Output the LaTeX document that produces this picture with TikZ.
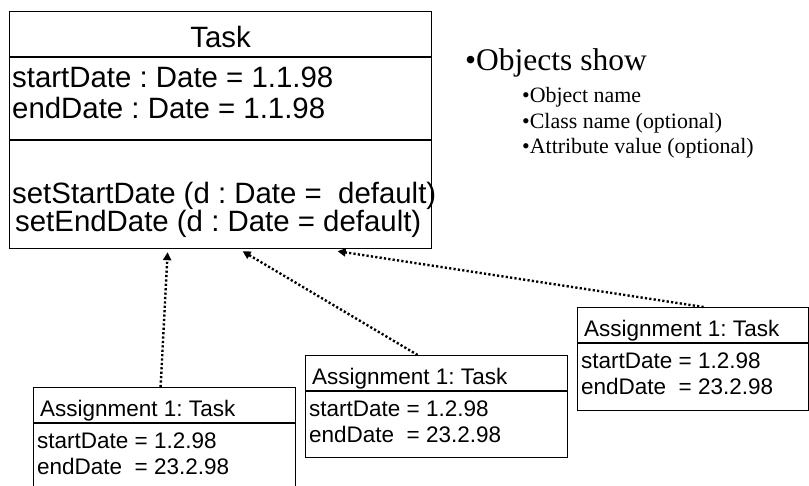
\documentclass[tikz,border=0pt]{standalone}
\usepackage{fontspec}
\setmainfont{Liberation Serif}
\newfontfamily\umlfont{Liberation Sans}
\usetikzlibrary{
    arrows.meta,
    positioning
}
\frenchspacing

\tikzset{
    objbox/.style={draw, line width=1.2pt, inner sep=0pt, anchor=north west},
    bigtxt/.style={font=\umlfont\fontsize{29.4}{34}\selectfont, inner sep=0pt, anchor=base west},
    smalltxt/.style={font=\umlfont\fontsize{22.5}{27}\selectfont, inner sep=0pt, anchor=base west},
    instof/.style={-{Triangle[length=8pt,width=8pt]}, line width=2.4pt, dash pattern=on 2.2pt off 2.2pt},
}

\begin{document}
\begin{tikzpicture}[x=1pt, y=-1pt]
    \useasboundingbox (0,0) rectangle (809,485);
    \clip (0,0) rectangle (809,485);

    % class box
    \node[objbox, minimum width=422pt, minimum height=237pt] (task) at (9,11) {};
    \draw[line width=1.2pt] ([yshift=-46pt]task.north west) -- ([yshift=-46pt]task.north east);
    \draw[line width=1.2pt] ([yshift=-129pt]task.north west) -- ([yshift=-129pt]task.north east);
    \node[bigtxt, anchor=base] (task-name) at ([yshift=-36pt]task.north) {Task};
    \node[bigtxt] (task-start) at ([xshift=3pt,yshift=-76pt]task.north west) {startDate : Date = 1.1.98};
    \node[bigtxt] (task-end)   at ([xshift=3pt,yshift=-107pt]task.north west) {endDate : Date = 1.1.98};
    \node[bigtxt] (task-set1)  at ([xshift=3pt,yshift=-192pt]task.north west) {setStartDate (d : Date = \ default)};
    \node[bigtxt] (task-set2)  at ([xshift=6pt,yshift=-220pt]task.north west) {setEndDate (d : Date = default)};

    % object boxes
    \foreach \nm/\x/\y/\w/\h in {objA/33/387/262/110, objB/305/355/262/102, objC/577/307/231/103} {
        \node[objbox, minimum width=\w pt, minimum height=\h pt] (\nm) at (\x,\y) {};
        \draw[line width=1.2pt] ([yshift=-36pt]\nm.north west) -- ([yshift=-36pt]\nm.north east);
        \node[smalltxt] (\nm-title) at ([xshift=7pt,yshift=-29pt]\nm.north west) {Assignment 1: Task};
        \node[smalltxt] (\nm-start) at ([xshift=4pt,yshift=-61pt]\nm.north west) {startDate = 1.2.98};
        \node[smalltxt] (\nm-end)   at ([xshift=4pt,yshift=-87pt]\nm.north west) {endDate \ = 23.2.98};
    }

    % instance-of links
    \draw[instof] ([xshift=-4pt]objA.north) -- ([xshift=-53pt,yshift=-3pt]task.south);
    \draw[instof] ([xshift=-19pt]objB.north) -- ([xshift=22pt,yshift=-2pt]task.south);
    \draw[instof] ([xshift=10.5pt]objC.north) -- ([xshift=117pt,yshift=-2pt]task.south);

    % notes
    \node[anchor=base west, inner sep=0pt, font=\fontsize{31.5}{36}\selectfont] (note) at (465,70) {•Objects show};
    \node[anchor=base west, inner sep=0pt, font=\fontsize{21.9}{26}\selectfont] (note-1) at (522,102) {•Object name};
    \node[anchor=base west, inner sep=0pt, font=\fontsize{21.9}{26}\selectfont] (note-2) at (522,128) {•Class name (optional)};
    \node[anchor=base west, inner sep=0pt, font=\fontsize{21.9}{26}\selectfont] (note-3) at (522,153) {•Attribute value (optional)};
\end{tikzpicture}
\end{document}
